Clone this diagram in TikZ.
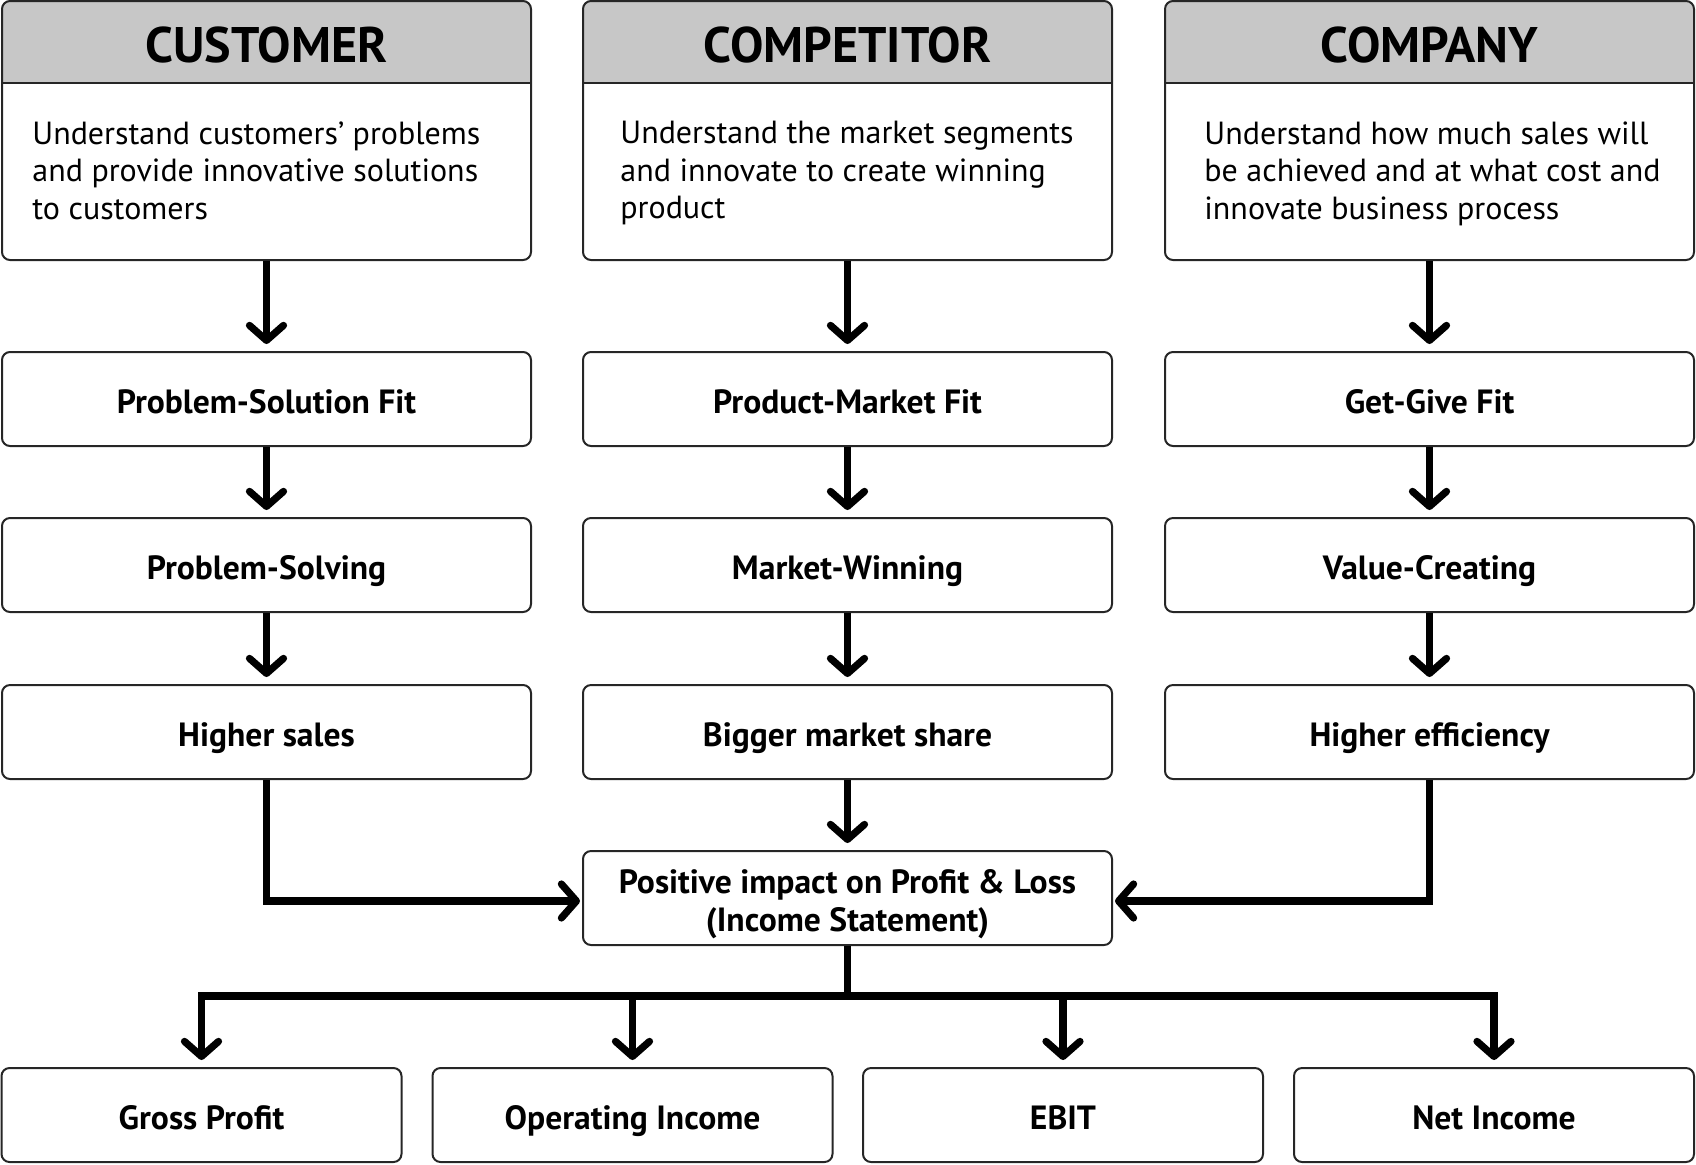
\documentclass[tikz,border=0pt]{standalone}
\usepackage{fontspec}
\setmainfont{PT Sans}
\usetikzlibrary{arrows.meta}
\definecolor{hdr}{HTML}{C7C7C7}
\definecolor{edge}{HTML}{262626}
\tikzset{
  boxbase/.style={draw=edge, line width=1pt, rounded corners=4pt, inner sep=0pt, align=center,
    minimum width=264.5pt, minimum height=47pt, font=\bfseries\fontsize{16.8}{19}\selectfont},
  box/.style={boxbase, text height=15pt, text depth=1pt},
  bbox/.style={box, minimum width=200pt},
  topbox/.style={draw=edge, line width=1pt, rounded corners=4pt, inner sep=0pt,
    minimum width=264.5pt, minimum height=129.5pt},
  hdrtext/.style={font=\bfseries\fontsize{25}{30}\selectfont, inner sep=0pt},
  bodytext/.style={font=\fontsize{16}{18.75}\selectfont, align=left, anchor=north west, inner sep=0pt},
  conn/.style={line width=3.6pt, -{Straight Barb[length=7.5pt,width=17pt,line cap=round,line join=round]}, shorten >=3.5pt},
  bus/.style={line width=3.6pt}
}
\begin{document}
\begin{tikzpicture}[x=0.5pt,y=-0.5pt]
\useasboundingbox (0,0) rectangle (1696,1164);
% headers fill
\foreach \xa/\xb in {2/531, 583/1112, 1165/1694}{
  \fill[hdr, rounded corners=4pt] (\xa,83) -- (\xa,1) -- (\xb,1) -- (\xb,83);
  \draw[line width=1pt, edge] (\xa,83) -- (\xb,83);
}
\node[topbox] (cust) at (266.5,130.5) {};
\node[topbox] (comp) at (847.5,130.5) {};
\node[topbox] (co)   at (1429.5,130.5) {};
\node[hdrtext] (custH) at (266.5,45) {CUSTOMER};
\node[hdrtext] (compH) at (847.5,45) {COMPETITOR};
\node[hdrtext] (coH)   at (1429.5,45) {COMPANY};
\node[bodytext] (custT) at (32,121) {Understand customers’ problems\\and provide innovative solutions\\to customers};
\node[bodytext] (compT) at (620,121) {Understand the market segments\\and innovate to create winning\\product};
\node[bodytext] (coT)   at (1204,121) {Understand how much sales will\\be achieved and at what cost and\\innovate business process};
% rows
\node[box] (psf) at (266.5,399) {Problem-Solution Fit};
\node[box] (pmf) at (847.5,399) {Product-Market Fit};
\node[box] (ggf) at (1429.5,399) {Get-Give Fit};
\node[box] (ps)  at (266.5,565) {Problem-Solving};
\node[box] (mw)  at (847.5,565) {Market-Winning};
\node[box] (vc)  at (1429.5,565) {Value-Creating};
\node[box] (hs)  at (266.5,732) {Higher sales};
\node[box] (bms) at (847.5,732) {Bigger market share};
\node[box] (he)  at (1429.5,732) {Higher efficiency};
\node[boxbase] (pl) at (847.5,898) {};
\node[inner sep=0pt, align=center, font=\bfseries\fontsize{16.8}{19}\selectfont] (plT) at (847.5,904) {Positive impact on Profit \& Loss\\(Income Statement)};
\node[bbox] (gp)  at (201.5,1115) {Gross Profit};
\node[bbox] (oi)  at (632.5,1115) {Operating Income};
\node[bbox] (ebit) at (1063,1115) {EBIT};
\node[bbox] (ni)  at (1494,1115) {Net Income};
% vertical arrows
\foreach \a/\b in {cust/psf, psf/ps, ps/hs, comp/pmf, pmf/mw, mw/bms, bms/pl, co/ggf, ggf/vc, vc/he}{
  \draw[conn] (\a.south) -- (\b.north);
}
\draw[conn, shorten >=1pt] (hs.south) |- ([yshift=-1.5pt]pl.west);
\draw[conn, shorten >=1pt] (he.south) |- ([yshift=-1.5pt]pl.east);
\coordinate (busc) at (847.5,996);
\draw[bus] (pl.south) -- (busc);
\foreach \t in {gp, oi, ebit, ni}{
  \draw[conn] (busc) -| (\t.north);
}
\end{tikzpicture}
\end{document}
